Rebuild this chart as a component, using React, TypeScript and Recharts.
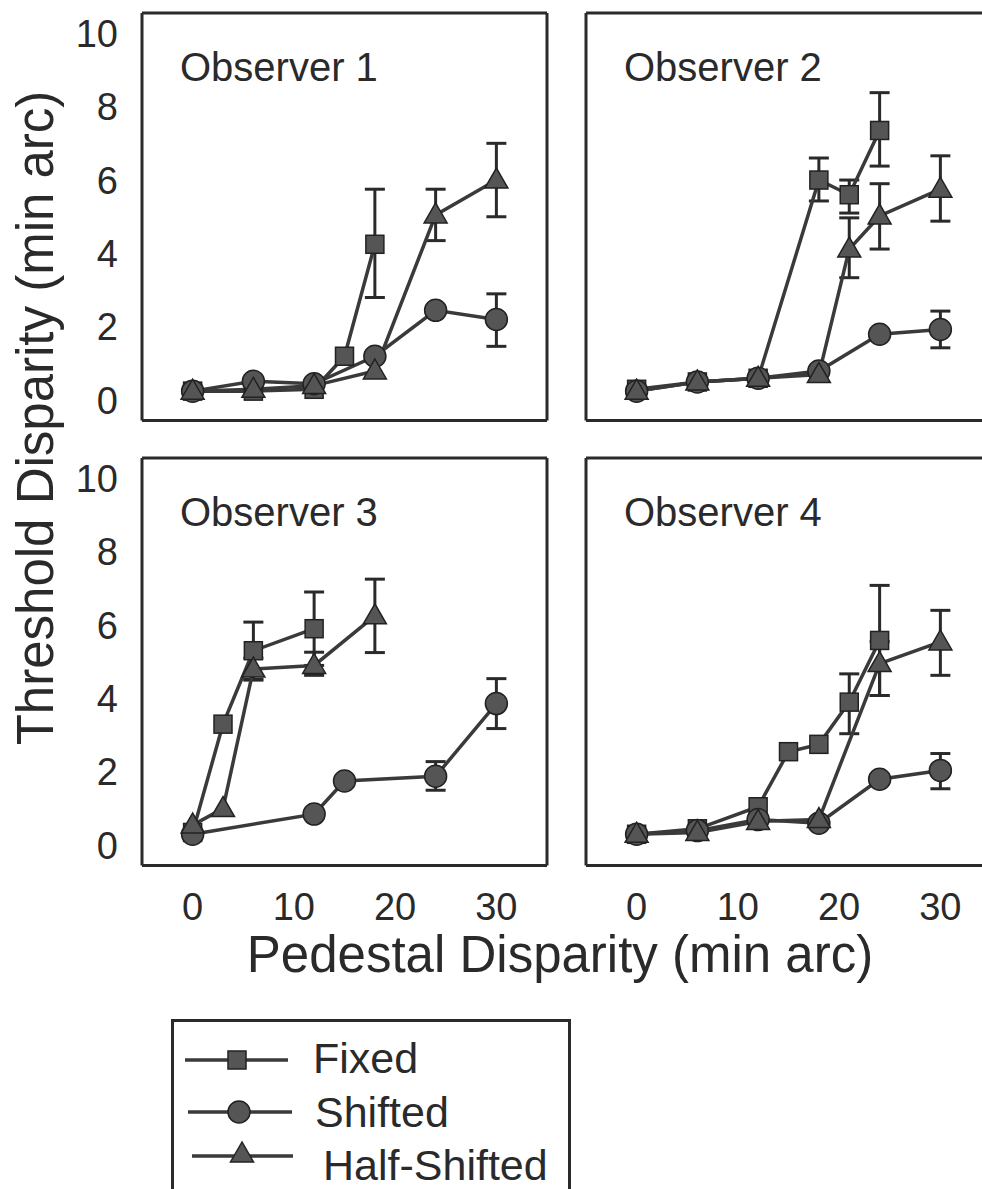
import React from "react";
import { LineChart, Line, XAxis, YAxis, ErrorBar } from "recharts";

// axes
const PEDESTAL_TICKS = [0, 10, 20, 30];
const THRESHOLD_TICKS = [0, 2, 4, 6, 8, 10];
const X_DOMAIN: [number, number] = [-5, 35];
const Y_DOMAIN: [number, number] = [-0.55, 10.55];

type Err = null | [number, number];

// Observer 1
const obs1FixedX = [0, 6, 12, 15, 18];
const obs1FixedY = [0.25, 0.25, 0.3, 1.2, 4.25];
const obs1FixedErr: Err[] = [null, null, null, null, [1.45, 1.5]];
const obs1ShiftedX = [0, 6, 12, 18, 24, 30];
const obs1ShiftedY = [0.25, 0.52, 0.45, 1.2, 2.45, 2.2];
const obs1ShiftedErr: Err[] = [null, null, null, null, null, [0.73, 0.7]];
const obs1HalfX = [0, 6, 12, 18, 24, 30];
const obs1HalfY = [0.25, 0.3, 0.4, 0.8, 5.05, 6.0];
const obs1HalfErr: Err[] = [null, null, null, null, [0.7, 0.7], [1.0, 1.0]];

// Observer 2
const obs2FixedX = [0, 6, 12, 18, 21, 24];
const obs2FixedY = [0.3, 0.5, 0.6, 6.0, 5.6, 7.35];
const obs2FixedErr: Err[] = [null, null, null, [0.57, 0.6], [0.5, 0.4], [0.97, 1.03]];
const obs2ShiftedX = [0, 6, 12, 18, 24, 30];
const obs2ShiftedY = [0.25, 0.5, 0.6, 0.8, 1.8, 1.93];
const obs2ShiftedErr: Err[] = [null, null, null, null, null, [0.5, 0.5]];
const obs2HalfX = [0, 6, 12, 18, 21, 24, 30];
const obs2HalfY = [0.25, 0.5, 0.6, 0.7, 4.12, 5.02, 5.75];
const obs2HalfErr: Err[] = [null, null, null, null, [0.78, 0.85], [0.9, 0.88], [0.87, 0.91]];

// Observer 3
const obs3FixedX = [0, 3, 6, 12];
const obs3FixedY = [0.35, 3.3, 5.3, 5.9];
const obs3FixedErr: Err[] = [null, null, [0.78, 0.78], [1.0, 1.0]];
const obs3ShiftedX = [0, 12, 15, 24, 30];
const obs3ShiftedY = [0.3, 0.85, 1.75, 1.88, 3.86];
const obs3ShiftedErr: Err[] = [null, null, null, [0.38, 0.4], [0.68, 0.68]];
const obs3HalfX = [0, 3, 6, 12, 18];
const obs3HalfY = [0.55, 1.0, 4.8, 4.9, 6.25];
const obs3HalfErr: Err[] = [null, null, [0.3, 0.3], [0.27, 0.36], [1.0, 1.0]];

// Observer 4
const obs4FixedX = [0, 6, 12, 15, 18, 21, 24];
const obs4FixedY = [0.3, 0.45, 1.05, 2.55, 2.75, 3.9, 5.58];
const obs4FixedErr: Err[] = [null, null, null, null, null, [0.86, 0.77], [1.5, 1.5]];
const obs4ShiftedX = [0, 6, 12, 18, 24, 30];
const obs4ShiftedY = [0.3, 0.4, 0.7, 0.6, 1.8, 2.04];
const obs4ShiftedErr: Err[] = [null, null, null, null, null, [0.5, 0.46]];
const obs4HalfX = [0, 6, 12, 18, 24, 30];
const obs4HalfY = [0.3, 0.35, 0.65, 0.7, 4.95, 5.54];
const obs4HalfErr: Err[] = [null, null, null, null, [0.87, 0.6], [0.91, 0.86]];

const OBSERVERS = ["Observer 1", "Observer 2", "Observer 3", "Observer 4"];
const SERIES_NAMES = ["Fixed", "Shifted", "Half-Shifted"];

const FONT = "'Liberation Sans', Arial, Helvetica, sans-serif";
const INK = "#2a2a2a";
const LINE = "#3a3a3a";
const FILL = "#555";

const rows = (xs: number[], ys: number[], errs: Err[]) =>
  xs.map((x, i) => ({ x, y: ys[i], err: errs[i] ?? undefined }));

const panels = [
  [rows(obs1FixedX, obs1FixedY, obs1FixedErr), rows(obs1ShiftedX, obs1ShiftedY, obs1ShiftedErr), rows(obs1HalfX, obs1HalfY, obs1HalfErr)],
  [rows(obs2FixedX, obs2FixedY, obs2FixedErr), rows(obs2ShiftedX, obs2ShiftedY, obs2ShiftedErr), rows(obs2HalfX, obs2HalfY, obs2HalfErr)],
  [rows(obs3FixedX, obs3FixedY, obs3FixedErr), rows(obs3ShiftedX, obs3ShiftedY, obs3ShiftedErr), rows(obs3HalfX, obs3HalfY, obs3HalfErr)],
  [rows(obs4FixedX, obs4FixedY, obs4FixedErr), rows(obs4ShiftedX, obs4ShiftedY, obs4ShiftedErr), rows(obs4HalfX, obs4HalfY, obs4HalfErr)],
];

// marker shapes
const Square = ({ cx, cy, s = 18 }: any) => (
  <rect x={cx - s / 2} y={cy - s / 2} width={s} height={s} fill={FILL} stroke="#222" strokeWidth={1.5} />
);
const Circle = ({ cx, cy, r = 11 }: any) => (
  <circle cx={cx} cy={cy} r={r} fill={FILL} stroke="#222" strokeWidth={1.5} />
);
const Triangle = ({ cx, cy, w = 23, h = 20 }: any) => (
  <polygon
    points={`${cx},${cy - h * 0.6} ${cx - w / 2},${cy + h * 0.4} ${cx + w / 2},${cy + h * 0.4}`}
    fill={FILL}
    stroke="#222"
    strokeWidth={1.5}
  />
);
const MARKERS = [Square, Circle, Triangle];

// panel geometry
const PLOT_W = 405;
const PLOT_H = 407.5;
const COL_LEFT = [142, 586];
const ROW_TOP = [12.5, 457.5];
const LAB_W = 100;
const LAB_H = 80;
const M_TOP = 10;
const M_RIGHT = 10;

const frameAxis = { stroke: INK, strokeWidth: 3 };
const frameTick = { stroke: INK, strokeWidth: 2.5 };

function Panel({ idx }: { idx: number }) {
  const col = idx % 2;
  const row = Math.floor(idx / 2);
  const showY = col === 0;
  const showX = row === 1;
  const tickStyle = { fontSize: 38, fill: INK, fontFamily: FONT };
  return (
    <div
      style={{
        position: "absolute",
        left: COL_LEFT[col] - LAB_W,
        top: ROW_TOP[row] - M_TOP,
      }}
    >
      <LineChart
        width={LAB_W + PLOT_W + M_RIGHT}
        height={M_TOP + PLOT_H + LAB_H}
        margin={{ top: M_TOP, right: M_RIGHT, left: 0, bottom: 0 }}
      >
        <XAxis
          xAxisId="lab"
          dataKey="x"
          type="number"
          domain={X_DOMAIN}
          ticks={PEDESTAL_TICKS}
          allowDataOverflow
          orientation="bottom"
          height={LAB_H}
          axisLine={false}
          tickLine={false}
          tickSize={0}
          tickMargin={28}
          tick={showX ? tickStyle : false}
        />
        <XAxis
          xAxisId="b"
          dataKey="x"
          type="number"
          domain={X_DOMAIN}
          ticks={PEDESTAL_TICKS}
          allowDataOverflow
          orientation="bottom"
          mirror
          tick={false}
          tickSize={11}
          axisLine={frameAxis}
          tickLine={frameTick}
        />
        <XAxis
          xAxisId="t"
          dataKey="x"
          type="number"
          domain={X_DOMAIN}
          ticks={PEDESTAL_TICKS}
          allowDataOverflow
          orientation="top"
          mirror
          tick={false}
          tickSize={11}
          axisLine={frameAxis}
          tickLine={frameTick}
        />
        <YAxis
          yAxisId="lab"
          type="number"
          domain={Y_DOMAIN}
          ticks={THRESHOLD_TICKS}
          allowDataOverflow
          orientation="left"
          width={LAB_W}
          axisLine={false}
          tickLine={false}
          tickSize={0}
          tickMargin={24}
          tick={showY ? tickStyle : false}
        />
        <YAxis
          yAxisId="l"
          type="number"
          domain={Y_DOMAIN}
          ticks={THRESHOLD_TICKS}
          allowDataOverflow
          orientation="left"
          mirror
          tick={false}
          tickSize={11}
          axisLine={frameAxis}
          tickLine={frameTick}
        />
        <YAxis
          yAxisId="r"
          type="number"
          domain={Y_DOMAIN}
          ticks={THRESHOLD_TICKS}
          allowDataOverflow
          orientation="right"
          mirror
          tick={false}
          tickSize={11}
          axisLine={frameAxis}
          tickLine={frameTick}
        />
        {panels[idx].map((data, s) => {
          const Marker = MARKERS[s];
          return (
            <Line
              key={SERIES_NAMES[s]}
              name={SERIES_NAMES[s]}
              xAxisId="b"
              yAxisId="l"
              data={data}
              dataKey="y"
              type="linear"
              stroke={LINE}
              strokeWidth={3.5}
              isAnimationActive={false}
              dot={(p: any) => <Marker key={`${s}-${p.index}`} cx={p.cx} cy={p.cy} />}
              activeDot={false}
            >
              <ErrorBar dataKey="err" direction="y" width={10} stroke={INK} strokeWidth={3} isAnimationActive={false} />
            </Line>
          );
        })}
      </LineChart>
    </div>
  );
}

function Overlay() {
  const legendY = [1060, 1112, 1156];
  const legendLineX = [
    [185, 288],
    [188, 292],
    [192, 293],
  ];
  const legendMarkX = [237, 239, 242];
  const legendTextX = [313, 315, 323];
  const legendTextY = [1073, 1127, 1180];
  return (
    <svg width={982} height={1189} style={{ position: "absolute", left: 0, top: 0 }}>
      <text
        transform="rotate(-90)"
        x={-418}
        y={53}
        textAnchor="middle"
        fontSize={51}
        fontFamily={FONT}
        fill={INK}
      >
        Threshold Disparity (min arc)
      </text>
      <text x={560} y={972} textAnchor="middle" fontSize={51} fontFamily={FONT} fill={INK}>
        Pedestal Disparity (min arc)
      </text>
      {OBSERVERS.map((t, i) => (
        <text
          key={t}
          x={COL_LEFT[i % 2] + 38}
          y={ROW_TOP[Math.floor(i / 2)] + 68}
          fontSize={40}
          fontFamily={FONT}
          fill={INK}
        >
          {t}
        </text>
      ))}
      <rect x={172.5} y={1020.5} width={397} height={220} fill="none" stroke={INK} strokeWidth={3} />
      {SERIES_NAMES.map((n, i) => {
        const Marker = MARKERS[i];
        return (
          <g key={n}>
            <line
              x1={legendLineX[i][0]}
              x2={legendLineX[i][1]}
              y1={legendY[i]}
              y2={legendY[i]}
              stroke={LINE}
              strokeWidth={3.5}
            />
            <Marker cx={legendMarkX[i]} cy={i === 2 ? legendY[i] - 2 : legendY[i]} />
            <text x={legendTextX[i]} y={legendTextY[i]} fontSize={43} fontFamily={FONT} fill={INK}>
              {n}
            </text>
          </g>
        );
      })}
    </svg>
  );
}

export default function App() {
  return (
    <div
      style={{
        position: "absolute",
        left: 0,
        top: 0,
        width: 982,
        height: 1189,
        overflow: "hidden",
        background: "#fff",
      }}
    >
      <Overlay />
      {[0, 1, 2, 3].map((i) => (
        <Panel key={i} idx={i} />
      ))}
    </div>
  );
}
